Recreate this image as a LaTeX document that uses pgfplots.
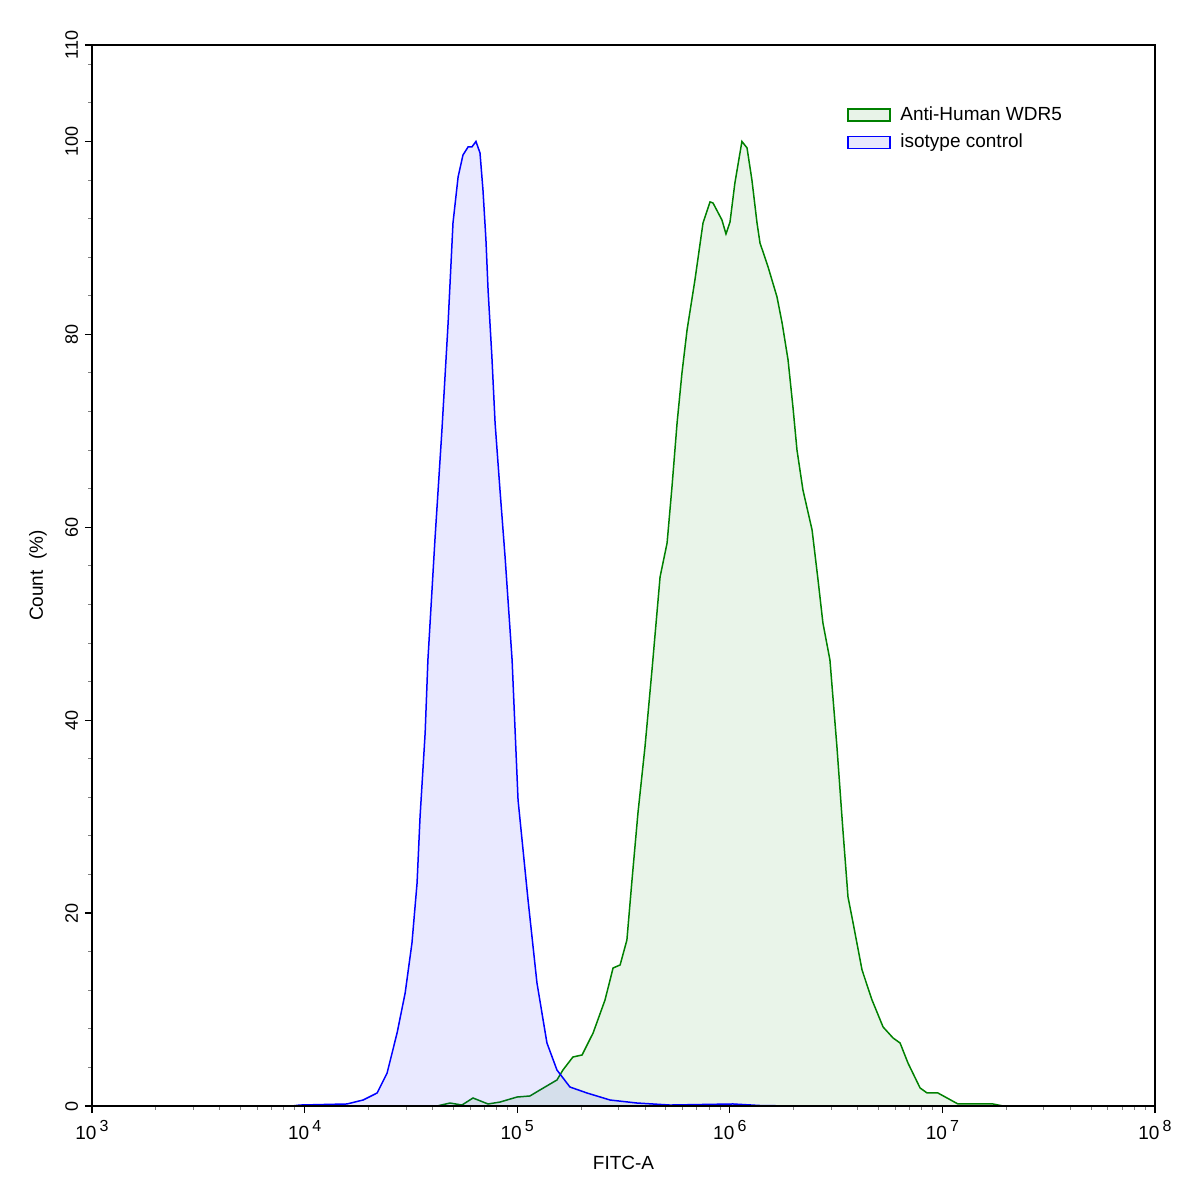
\documentclass[border=0pt]{standalone}
\usepackage{fontspec}
\setmainfont{Liberation Sans}
\usepackage{pgfplots}
\pgfplotsset{compat=1.18}
\definecolor{isoblue}{RGB}{0,0,255}
\definecolor{wdrgreen}{RGB}{0,128,0}
\definecolor{isofill}{RGB}{232,232,253}
\definecolor{wdrfill}{RGB}{232,243,232}
\newcommand{\expsup}[1]{\raisebox{0.45em}{\fontsize{8}{9}\selectfont #1}}
\begin{document}
\begin{tikzpicture}
\begin{axis}[
  scale only axis, width=531.5pt, height=530.5pt,
  xmin=3, xmax=8, ymin=0, ymax=110,
  axis on top,
  xtick={3,4,5,6,7,8},
  xticklabels={10\,\expsup{3},10\,\expsup{4},10\,\expsup{5},10\,\expsup{6},10\,\expsup{7},10\,\expsup{8}},
  minor xtick={3.30103,3.47712,3.60206,3.69897,3.77815,3.84510,3.90309,3.95424,
               4.30103,4.47712,4.60206,4.69897,4.77815,4.84510,4.90309,4.95424,
               5.30103,5.47712,5.60206,5.69897,5.77815,5.84510,5.90309,5.95424,
               6.30103,6.47712,6.60206,6.69897,6.77815,6.84510,6.90309,6.95424,
               7.30103,7.47712,7.60206,7.69897,7.77815,7.84510,7.90309,7.95424},
  ytick={0,20,40,60,80,100,110},
  yticklabels={0,20,40,60,80,100,110},
  minor ytick={4,8,12,16,24,28,32,36,44,48,52,56,64,68,72,76,84,88,92,96,104,108},
  tick align=outside, tick pos=left,
  major tick length=3.5pt, minor tick length=1.8pt,
  every major tick/.append style={black, line width=0.6pt},
  every minor tick/.append style={gray, line width=0.5pt},
  axis line style={line width=0.7pt},
  xticklabel style={font=\fontsize{9.5}{11}\selectfont},
  yticklabel style={font=\fontsize{9}{11}\selectfont, rotate=90, anchor=south},
  xlabel={FITC-A}, ylabel={Count\ \ (\%)},
  label style={font=\fontsize{9.5}{11}\selectfont},
  xlabel style={at={(axis description cs:0.5,-0.0537)}, anchor=center},
  ylabel style={at={(axis description cs:-0.0508,0.5)}, anchor=center, rotate=0},
  legend style={draw=none, fill=none, font=\fontsize{9.5}{11}\selectfont,
    at={(axis description cs:0.704,0.950)}, anchor=north west, row sep=1.5pt},
  legend cell align=left,
]
\addplot[draw=wdrgreen, line width=0.75pt, fill=wdrgreen, fill opacity=0.085,
  legend image code/.code={\draw[draw=wdrgreen, fill=wdrfill, fill opacity=1, line width=0.9pt] (0pt,-3pt) rectangle (21pt,3pt); \path (24pt,0pt);}] coordinates {
(4.623,0) (4.684,0.31) (4.740,0.10) (4.792,0.83) (4.863,0.21) (4.919,0.41)
(4.999,0.93) (5.060,1.04) (5.107,1.66) (5.187,2.70) (5.215,3.73) (5.262,5.08)
(5.305,5.29) (5.357,7.57) (5.413,10.99) (5.451,14.31) (5.484,14.62) (5.516,17.21)
(5.540,23.43) (5.568,30.38) (5.601,37.22) (5.634,45.20) (5.672,54.85) (5.705,58.37)
(5.728,64.18) (5.752,70.81) (5.775,76.00) (5.799,80.46) (5.836,85.64) (5.874,91.55)
(5.907,93.73) (5.921,93.62) (5.963,91.86) (5.982,90.41) (6.001,91.65) (6.024,95.70)
(6.057,100.0) (6.081,99.33) (6.104,96.01) (6.128,91.55) (6.142,89.48) (6.180,86.99)
(6.222,83.88) (6.246,81.18) (6.274,77.35) (6.297,72.47) (6.316,68.01) (6.344,63.87)
(6.387,59.72) (6.415,54.54) (6.438,50.08) (6.471,46.24) (6.504,37.22) (6.532,28.62)
(6.556,21.67) (6.580,18.97) (6.622,14.10) (6.669,10.99) (6.721,8.19) (6.768,7.05)
(6.801,6.53) (6.838,4.46) (6.895,1.87) (6.928,1.35) (6.979,1.35) (7.022,0.83)
(7.073,0.21) (7.238,0.21) (7.285,0)
} \closedcycle;
\addlegendentry{Anti-Human WDR5}
\addplot[draw=isoblue, line width=0.75pt, fill=isoblue, fill opacity=0.085,
  legend image code/.code={\draw[draw=isoblue, fill=isofill, fill opacity=1, line width=0.9pt] (0pt,-3pt) rectangle (21pt,3pt); \path (24pt,0pt);}] coordinates {
(3.941,0) (3.978,0.10) (4.199,0.21) (4.275,0.62) (4.341,1.35) (4.388,3.42)
(4.435,7.57) (4.473,11.72) (4.505,16.90) (4.529,23.12) (4.543,29.96) (4.567,38.67)
(4.580,46.24) (4.613,58.68) (4.646,70.09) (4.675,81.18) (4.698,91.55) (4.722,96.32)
(4.745,98.60) (4.769,99.43) (4.787,99.43) (4.806,100.0) (4.825,98.81) (4.839,94.97)
(4.853,89.79) (4.863,84.60) (4.881,77.66) (4.896,70.81) (4.919,63.87) (4.943,56.92)
(4.976,46.24) (5.004,31.73) (5.051,21.36) (5.093,12.75) (5.140,6.53) (5.187,3.73)
(5.248,1.97) (5.328,1.35) (5.437,0.62) (5.563,0.31) (5.719,0.10) (6.015,0.21)
(6.142,0.05) (6.297,0)
} \closedcycle;
\addlegendentry{isotype control}
\end{axis}
\path ([xshift=-46pt,yshift=-43.5pt]current axis.south west) rectangle ([xshift=21pt,yshift=22.5pt]current axis.north east);
\end{tikzpicture}
\end{document}
